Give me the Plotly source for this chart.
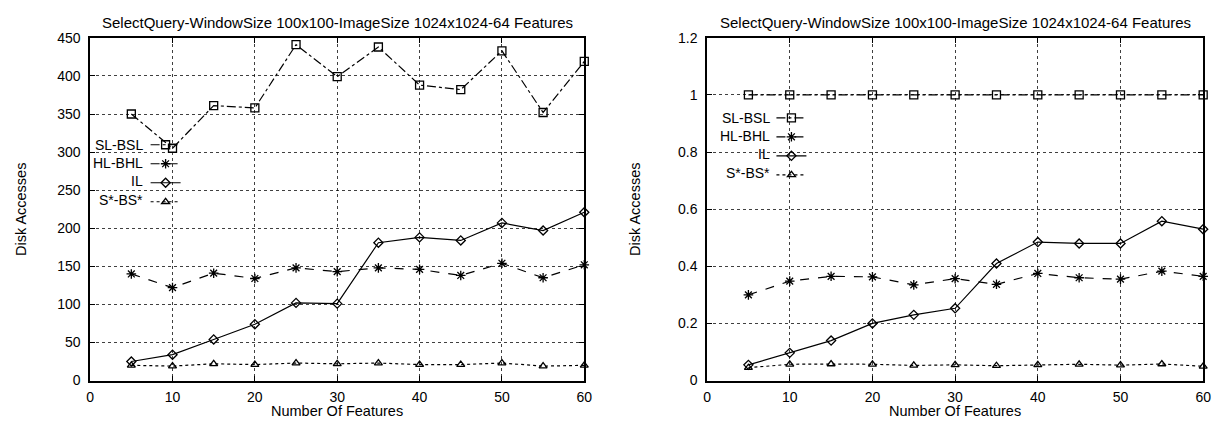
import plotly.graph_objects as go

features = [5, 10, 15, 20, 25, 30, 35, 40, 45, 50, 55, 60]
series_names = ["SL-BSL", "HL-BHL", "IL", "S*-BS*"]

left_sl_bsl = [350, 305, 361, 358, 441, 399, 438, 388, 382, 433, 352, 419]
left_hl_bhl = [140, 122, 141, 134, 148, 143, 148, 146, 138, 154, 135, 152]
left_il = [25, 34, 54, 74, 102, 101, 181, 188, 184, 207, 197, 221]
left_s_bs = [20, 19, 22, 21, 23, 22, 23, 21, 21, 23, 19, 20]

right_sl_bsl = [1.0, 1.0, 1.0, 1.0, 1.0, 1.0, 1.0, 1.0, 1.0, 1.0, 1.0, 1.0]
right_hl_bhl = [0.30, 0.348, 0.365, 0.363, 0.335, 0.357, 0.337, 0.375, 0.36, 0.355, 0.383, 0.365]
right_il = [0.055, 0.097, 0.14, 0.20, 0.23, 0.253, 0.41, 0.485, 0.48, 0.48, 0.558, 0.53]
right_s_bs = [0.045, 0.057, 0.058, 0.057, 0.053, 0.055, 0.052, 0.055, 0.057, 0.054, 0.058, 0.05]

title_text = "SelectQuery-WindowSize 100x100-ImageSize 1024x1024-64 Features"
x_title = "Number Of Features"
y_title = "Disk Accesses"

styles = [
    dict(dash="dashdot", symbol="square-open", size=8),
    dict(dash="dash", symbol="asterisk-open", size=8),
    dict(dash="solid", symbol="diamond-open", size=7),
    dict(dash="dot", symbol="triangle-up-open", size=7),
]

FONT = "Liberation Sans, Arial, sans-serif"
fig = go.Figure()

left_data = [left_sl_bsl, left_hl_bhl, left_il, left_s_bs]
right_data = [right_sl_bsl, right_hl_bhl, right_il, right_s_bs]

for data, xa, ya, lg in [(left_data, "x", "y", "legend"), (right_data, "x2", "y2", "legend2")]:
    for name, vals, st in zip(series_names, data, styles):
        fig.add_trace(go.Scatter(
            x=features, y=vals, name=" ", mode="lines+markers",
            xaxis=xa, yaxis=ya, legend=lg,
            hovertext=name, hoverinfo="x+y+text",
            line=dict(color="black", width=1.2, dash=st["dash"]),
            marker=dict(symbol=st["symbol"], size=st["size"], color="black",
                        line=dict(color="black", width=1.3)),
            cliponaxis=False,
        ))

W, H = 1229, 429
lx0, lx1 = 87 / W, 586 / W
rx0, rx1 = 710 / W, 1211 / W
y0, y1 = (H - 387) / H, (H - 31) / H

axis_common = dict(
    showline=True, linecolor="black", linewidth=1.6, mirror="ticks",
    ticks="inside", ticklen=5, tickcolor="black",
    showgrid=True, gridcolor="rgba(0,0,0,0.75)", griddash="dot", gridwidth=1,
    zeroline=False, tickfont=dict(family=FONT, size=14, color="black"),
)
xaxis_common = dict(axis_common, ticklabelstandoff=3)
yaxis_common = dict(axis_common, ticklabelstandoff=5)

# legend placement (pixels): top-left of legend box
LEG_L = (143, 127)
LEG_R = (775, 99)
LBL_L = 142
LBL_R = 776
ROW = 19
ROW0 = 15  # offset of first legend row centre from legend top

fig.update_layout(
    width=W, height=H,
    margin=dict(l=0, r=0, t=0, b=0),
    paper_bgcolor="white", plot_bgcolor="white",
    font=dict(family=FONT, color="black"),
    xaxis=dict(domain=[lx0, lx1], range=[0, 60], dtick=10, anchor="y", **xaxis_common),
    yaxis=dict(domain=[y0, y1], range=[0, 450], dtick=50, anchor="x", **yaxis_common),
    xaxis2=dict(domain=[rx0, rx1], range=[0, 60], dtick=10, anchor="y2", **xaxis_common),
    yaxis2=dict(domain=[y0, y1], range=[0, 1.2], dtick=0.2, anchor="x2", **yaxis_common),
    legend=dict(x=LEG_L[0] / W, y=(H - LEG_L[1]) / H, xanchor="left", yanchor="top",
                bgcolor="rgba(0,0,0,0)", font=dict(size=10, family=FONT),
                tracegroupgap=0, itemwidth=30),
    legend2=dict(x=LEG_R[0] / W, y=(H - LEG_R[1]) / H, xanchor="left", yanchor="top",
                 bgcolor="rgba(0,0,0,0)", font=dict(size=10, family=FONT),
                 tracegroupgap=0, itemwidth=30),
    showlegend=True,
)

annotations = []
for cx, xl in [((lx0 + lx1) / 2, 17 / W), ((rx0 + rx1) / 2, 637 / W)]:
    annotations.append(dict(text=title_text, x=cx, y=(H - 15) / H, xref="paper", yref="paper",
                            showarrow=False, font=dict(size=15, family=FONT), xanchor="center", yanchor="middle"))
    annotations.append(dict(text=x_title, x=cx, y=(H - 419) / H, xref="paper", yref="paper",
                            showarrow=False, font=dict(size=14.5, family=FONT), xanchor="center", yanchor="middle"))
    annotations.append(dict(text=y_title, x=xl, y=(y0 + y1) / 2, xref="paper", yref="paper",
                            showarrow=False, textangle=-90, font=dict(size=14.5, family=FONT),
                            xanchor="center", yanchor="middle"))
# legend labels, right-aligned to the left of the legend samples (gnuplot style)
for (lx, ly), tx in [(LEG_L, LBL_L), (LEG_R, LBL_R)]:
    for i, name in enumerate(series_names):
        annotations.append(dict(text=name, x=tx / W, y=(H - (ly + ROW0 + ROW * i)) / H,
                                xref="paper", yref="paper", showarrow=False,
                                font=dict(size=14, family=FONT), xanchor="right", yanchor="middle"))
fig.update_layout(annotations=annotations)

fig.write_html("out.html", config={"displayModeBar": False},
               post_script="document.body.style.margin='0';document.body.style.overflow='hidden';")
